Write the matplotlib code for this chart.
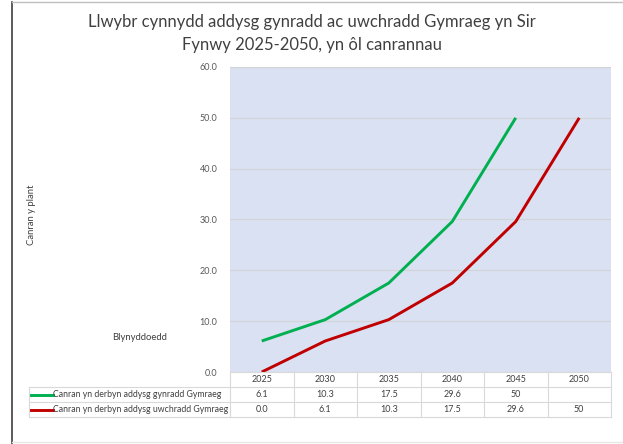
import matplotlib.pyplot as plt
import matplotlib.transforms as mtransforms
import numpy as np

# data
years = ['2025', '2030', '2035', '2040', '2045', '2050']
primary = [6.1, 10.3, 17.5, 29.6, 50, None]
secondary = [0.0, 6.1, 10.3, 17.5, 29.6, 50]
primary_txt = ['6.1', '10.3', '17.5', '29.6', '50', '']
secondary_txt = ['0.0', '6.1', '10.3', '17.5', '29.6', '50']
series_names = ['Canran yn derbyn addysg gynradd Gymraeg',
                'Canran yn derbyn addysg uwchradd Gymraeg']
colors = ['#00B050', '#C00000']

plt.rcParams['font.family'] = ['Lato', 'DejaVu Sans']

W, H = 623, 444
fig = plt.figure(figsize=(W/100, H/100), dpi=100)

# outer chart border
fig.add_artist(plt.Line2D([12/W, 12/W], [0, 1 - 2/H], color='#404040', lw=1.2))
fig.add_artist(plt.Line2D([12/W, 1], [1 - 2/H, 1 - 2/H], color='#BFBFBF', lw=1))
fig.add_artist(plt.Line2D([12/W, 1], [2/H, 2/H], color='#E6E6E6', lw=1))

ax = fig.add_axes([230/W, (H-372)/H, 381/W, 305/H])
ax.set_facecolor('#D9E1F2')
x = np.arange(len(years))
p = np.array([np.nan if v is None else v for v in primary], dtype=float)
ax.plot(x, p, color=colors[0], lw=2.1, solid_capstyle='butt')
ax.plot(x, secondary, color=colors[1], lw=2.1, solid_capstyle='butt')

ax.set_xlim(-0.5, len(years) - 0.5)
ax.set_ylim(0, 60)
ax.set_yticks(np.arange(0, 61, 10))
ax.set_yticklabels([f'{v:.1f}' for v in np.arange(0, 61, 10)], fontsize=6.5, color='#595959')
ax.set_xticks([])
ax.tick_params(axis='y', length=0, pad=9)
ax.grid(axis='y', color='#D3D3D8', lw=0.8)
ax.set_axisbelow(True)
for s in ax.spines.values():
    s.set_visible(False)

# data table under the axis
trans = mtransforms.blended_transform_factory(ax.transData, ax.transAxes)
row_h = 15/305
grid_c = '#D9D9D9'
txt_c = '#404040'
ax.plot([-0.5, 5.5], [0, 0], transform=trans, color=grid_c, lw=0.8, clip_on=False)
for r in range(1, 4):
    fig.add_artist(plt.Line2D([29/W, 611/W], [(H-372-15*r)/H]*2, color=grid_c, lw=0.8))
for i in range(len(years) + 1):
    ax.plot([i - 0.5, i - 0.5], [0, -3*row_h], transform=trans, color=grid_c, lw=0.8, clip_on=False)
fig.add_artist(plt.Line2D([29/W, 29/W], [(H-417)/H, (H-387)/H], color=grid_c, lw=0.8))

for i, yr in enumerate(years):
    ax.text(i, -0.5*row_h, yr, transform=trans, ha='center', va='center', fontsize=6.5, color=txt_c)
    ax.text(i, -1.5*row_h, primary_txt[i], transform=trans, ha='center', va='center', fontsize=6.5, color=txt_c)
    ax.text(i, -2.5*row_h, secondary_txt[i], transform=trans, ha='center', va='center', fontsize=6.5, color=txt_c)

for k, name in enumerate(series_names):
    yc = (H - 372 - 15*(k + 1.5))/H
    fig.add_artist(plt.Line2D([31/W, 53/W], [yc, yc], color=colors[k], lw=2.1))
    fig.text(53/W, yc, name, ha='left', va='center', fontsize=6.3, color=txt_c)

# titles
fig.text(312/W, 1 - 22/H, 'Llwybr cynnydd addysg gynradd ac uwchradd Gymraeg yn Sir',
         ha='center', va='center', fontsize=12, color='#404040')
fig.text(312/W, 1 - 45/H, 'Fynwy 2025-2050, yn ôl canrannau',
         ha='center', va='center', fontsize=12, color='#404040')
fig.text(32/W, 1 - 215/H, 'Canran y plant', rotation=90, ha='center', va='center',
         fontsize=6.8, color=txt_c)
fig.text(140/W, 1 - 337/H, 'Blynyddoedd', ha='center', va='center', fontsize=6.8, color=txt_c)

fig.savefig('out.png', dpi=100)
